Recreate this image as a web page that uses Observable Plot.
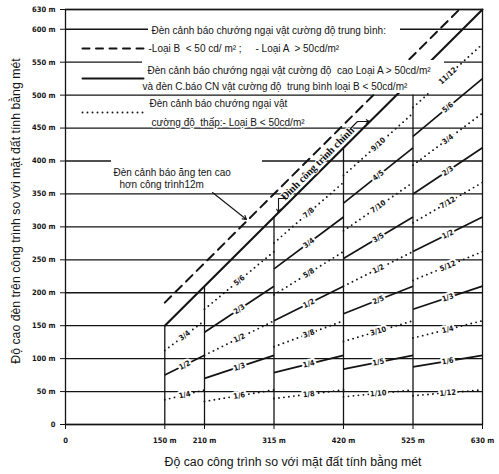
<!DOCTYPE html>
<html><head><meta charset="utf-8">
<script src="https://cdn.jsdelivr.net/npm/d3@7"></script>
<script src="https://cdn.jsdelivr.net/npm/@observablehq/plot@0.6"></script>
<style>
body{margin:0;background:#fff}
g[aria-label="y-axis tick label"] text, g[aria-label="x-axis tick label"] text{font-weight:bold}
</style>
</head><body><div id="chart"></div>
<script>
// ---- data ----
const yTicks = [0,50,100,150,200,250,300,350,400,450,500,550,600,630];
const xTicks = [0,150,210,315,420,525,630];
const columnStarts = [150,210,315,420,525];
const columnEnds   = [210,315,420,525,630];
const verticalTops = [150,210,315,420,500];
const fractionLabels = [
  ["1/4","1/2","3/4"],
  ["1/6","1/3","1/2","2/3","5/6"],
  ["1/8","1/4","3/8","1/2","5/8","3/4","7/8"],
  ["1/10","1/5","3/10","2/5","1/2","3/5","7/10","4/5","9/10"],
  ["1/12","1/6","1/4","1/3","5/12","1/2","7/12","2/3","3/4","5/6","11/12"]
];
const mainLineX = [150,630];          // đỉnh công trình chính (y = x)
const antennaX = [150,594];           // đèn ăng ten (dashed)
const antennaY = [185,629];

const legendTexts = [
  "Đèn cảnh báo chướng ngại vật cường độ trung bình:",
  "-Loại B  < 50 cd/ m² ;     - Loại A  > 50cd/m²",
  "Đèn cảnh báo chướng ngại vật cường độ  cao Loại A > 50cd/m²",
  "và đèn C.báo CN vật cường độ  trung bình loại B < 50cd/m²",
  "Đèn cảnh báo chướng ngại vật",
  "cường độ  thấp:- Loại B < 50cd/m²"
];
const antennaNote = ["Đèn cảnh báo ăng ten cao","hơn công trình12m"];
const topNote = "Đỉnh công trình chính";
const xLabel = "Độ cao công trình so với mặt đất tính bằng mét";
const yLabel = "Độ cao đèn trên công trình so với mặt đất tính bằng mét";

// ---- layout ----
const W = 499, H = 474, ML = 65, MR = 17, MT = 9, MB = 50;
const kx = (W-ML-MR)/630, ky = (H-MT-MB)/630;
const X = px => (px-ML)/kx, Y = py => (H-MB-py)/ky;

const segs = [];
fractionLabels.forEach((labs, c) => {
  labs.forEach((lab, j) => {
    const [a,b] = lab.split("/").map(Number);
    const f = a/b, x1 = columnStarts[c], x2 = columnEnds[c];
    segs.push({lab, f, x1, x2, y1: f*x1, y2: f*x2, dotted: j % 2 === 0,
               xm: (x1+x2)/2, ym: f*(x1+x2)/2,
               rot: -Math.atan(f*ky/kx)*180/Math.PI});
  });
});

const ink = "#141414";
const small = "'Liberation Sans Narrow','DejaVu Sans Condensed',sans-serif";

const legendY = [30,48,70,86,103,122];
const legendX = [151,148,147,142,149,151];
const legendRows = legendTexts.map((t,i) => ({t, x: X(legendX[i]), y: Y(legendY[i]), i}));

const chart = Plot.plot({
  width: W, height: H,
  marginLeft: ML, marginRight: MR, marginTop: MT, marginBottom: MB,
  x: {domain: [0,630]}, y: {domain: [0,630]},
  style: {fontFamily: "'Liberation Sans',Arial,sans-serif", fontSize: "10px", color: ink, background: "white"},
  marks: [
    Plot.ruleY(yTicks, {x1: 0, x2: 630, stroke: ink, strokeWidth: 1.3}),
    Plot.ruleX(columnStarts, {y1: 0, y2: (d,i) => verticalTops[i], stroke: ink, strokeWidth: 1.3}),
    Plot.frame({stroke: ink, strokeWidth: 1.3}),
    Plot.link(segs.filter(d => !d.dotted), {x1:"x1", y1:"y1", x2:"x2", y2:"y2", stroke: ink, strokeWidth: 1.7}),
    Plot.link(segs.filter(d => d.dotted), {x1:"x1", y1:"y1", x2:"x2", y2:"y2", stroke: ink, strokeWidth: 1.9, strokeDasharray: "0,5", strokeLinecap: "round"}),
    Plot.line(mainLineX.map(v => [v, v]), {stroke: ink, strokeWidth: 2.1}),
    Plot.line(antennaX.map((v,i) => [v, antennaY[i]]), {stroke: ink, strokeWidth: 2, strokeDasharray: "9,6"}),
    // white paste-up boxes behind labels
    Plot.rect([0], {x1: X(142), x2: X(444), y1: Y(93), y2: Y(60), fill: "white"}),
    Plot.rect([0], {x1: X(148), x2: X(400), y1: Y(36), y2: Y(24), fill: "white"}),
    Plot.rect([0], {x1: X(111), x2: X(262), y1: Y(190), y2: Y(158), fill: "white"}),
    // fraction labels
    Plot.text(segs, {x: "xm", y: "ym", text: "lab", rotate: "rot", fontSize: 7.5, fontWeight: "bold",
      fontFamily: small, fill: ink, stroke: "white", strokeWidth: 4, textAnchor: "middle", lineAnchor: "middle"}),
    // legend samples
    Plot.line([[X(82),Y(48)],[X(143),Y(48)]], {stroke: ink, strokeWidth: 2, strokeDasharray: "7,6.5"}),
    Plot.line([[X(82),Y(78)],[X(143),Y(78)]], {stroke: ink, strokeWidth: 2}),
    Plot.line([[X(82),Y(112)],[X(143),Y(112)]], {stroke: ink, strokeWidth: 1.9, strokeDasharray: "0,5", strokeLinecap: "round"}),
    // legend texts
    Plot.text(legendRows, {x: "x", y: "y", text: "t", textAnchor: "start", lineAnchor: "middle",
      fill: ink, stroke: "white", strokeWidth: 3, fontSize: 10}),
    // antenna note
    Plot.text(antennaNote, {x: (d,i) => X(i === 0 ? 113 : 119), y: (d,i) => Y(i === 0 ? 172 : 184),
      text: d => d, textAnchor: "start", lineAnchor: "middle", fill: ink, fontSize: 10}),
    Plot.arrow([0], {x1: X(212), y1: Y(192), x2: X(246), y2: Y(219), stroke: ink, strokeWidth: 1.1, headLength: 6}),
    // top note along main line
    Plot.text([topNote], {x: X(317), y: Y(163), text: d => d, rotate: -45, textAnchor: "middle", lineAnchor: "middle",
      fontFamily: "'Liberation Serif',serif", fontWeight: "bold", fontSize: 10.5, fill: ink, stroke: "white", strokeWidth: 2}),
    Plot.line([[X(287),Y(198)],[X(278),Y(198)]], {stroke: ink, strokeWidth: 1.1}),
    Plot.arrow([0], {x1: X(278), y1: Y(198), x2: X(278), y2: Y(212), stroke: ink, strokeWidth: 1.1, headLength: 5}),
    Plot.line([[X(350),Y(128)],[X(357),Y(121)]], {stroke: ink, strokeWidth: 1.1}),
    Plot.arrow([0], {x1: X(357), y1: Y(121), x2: X(369), y2: Y(121), stroke: ink, strokeWidth: 1.1, headLength: 5}),
    // axes
    Plot.axisY({ticks: yTicks, tickFormat: d => d === 0 ? "0" : `${d} m`, tickSize: 5, tickPadding: 5,
      fontSize: 7.5, fontFamily: small, label: null, stroke: ink}),
    Plot.axisX({ticks: xTicks, tickFormat: d => d === 0 ? "0" : `${d} m`, tickSize: 5, tickPadding: 8,
      fontSize: 7.5, fontFamily: small, label: null, stroke: ink}),
    Plot.text([xLabel], {frameAnchor: "bottom", dx: 19, dy: 38, text: d => d, fontSize: 12.3, fill: ink, textAnchor: "middle", lineAnchor: "middle"}),
    Plot.text([yLabel], {frameAnchor: "left", dx: -49, dy: -6, text: d => d, rotate: -90, fontSize: 12.3, fill: ink, textAnchor: "middle", lineAnchor: "middle"})
  ]
});
document.getElementById("chart").append(chart);
</script>
</body></html>
